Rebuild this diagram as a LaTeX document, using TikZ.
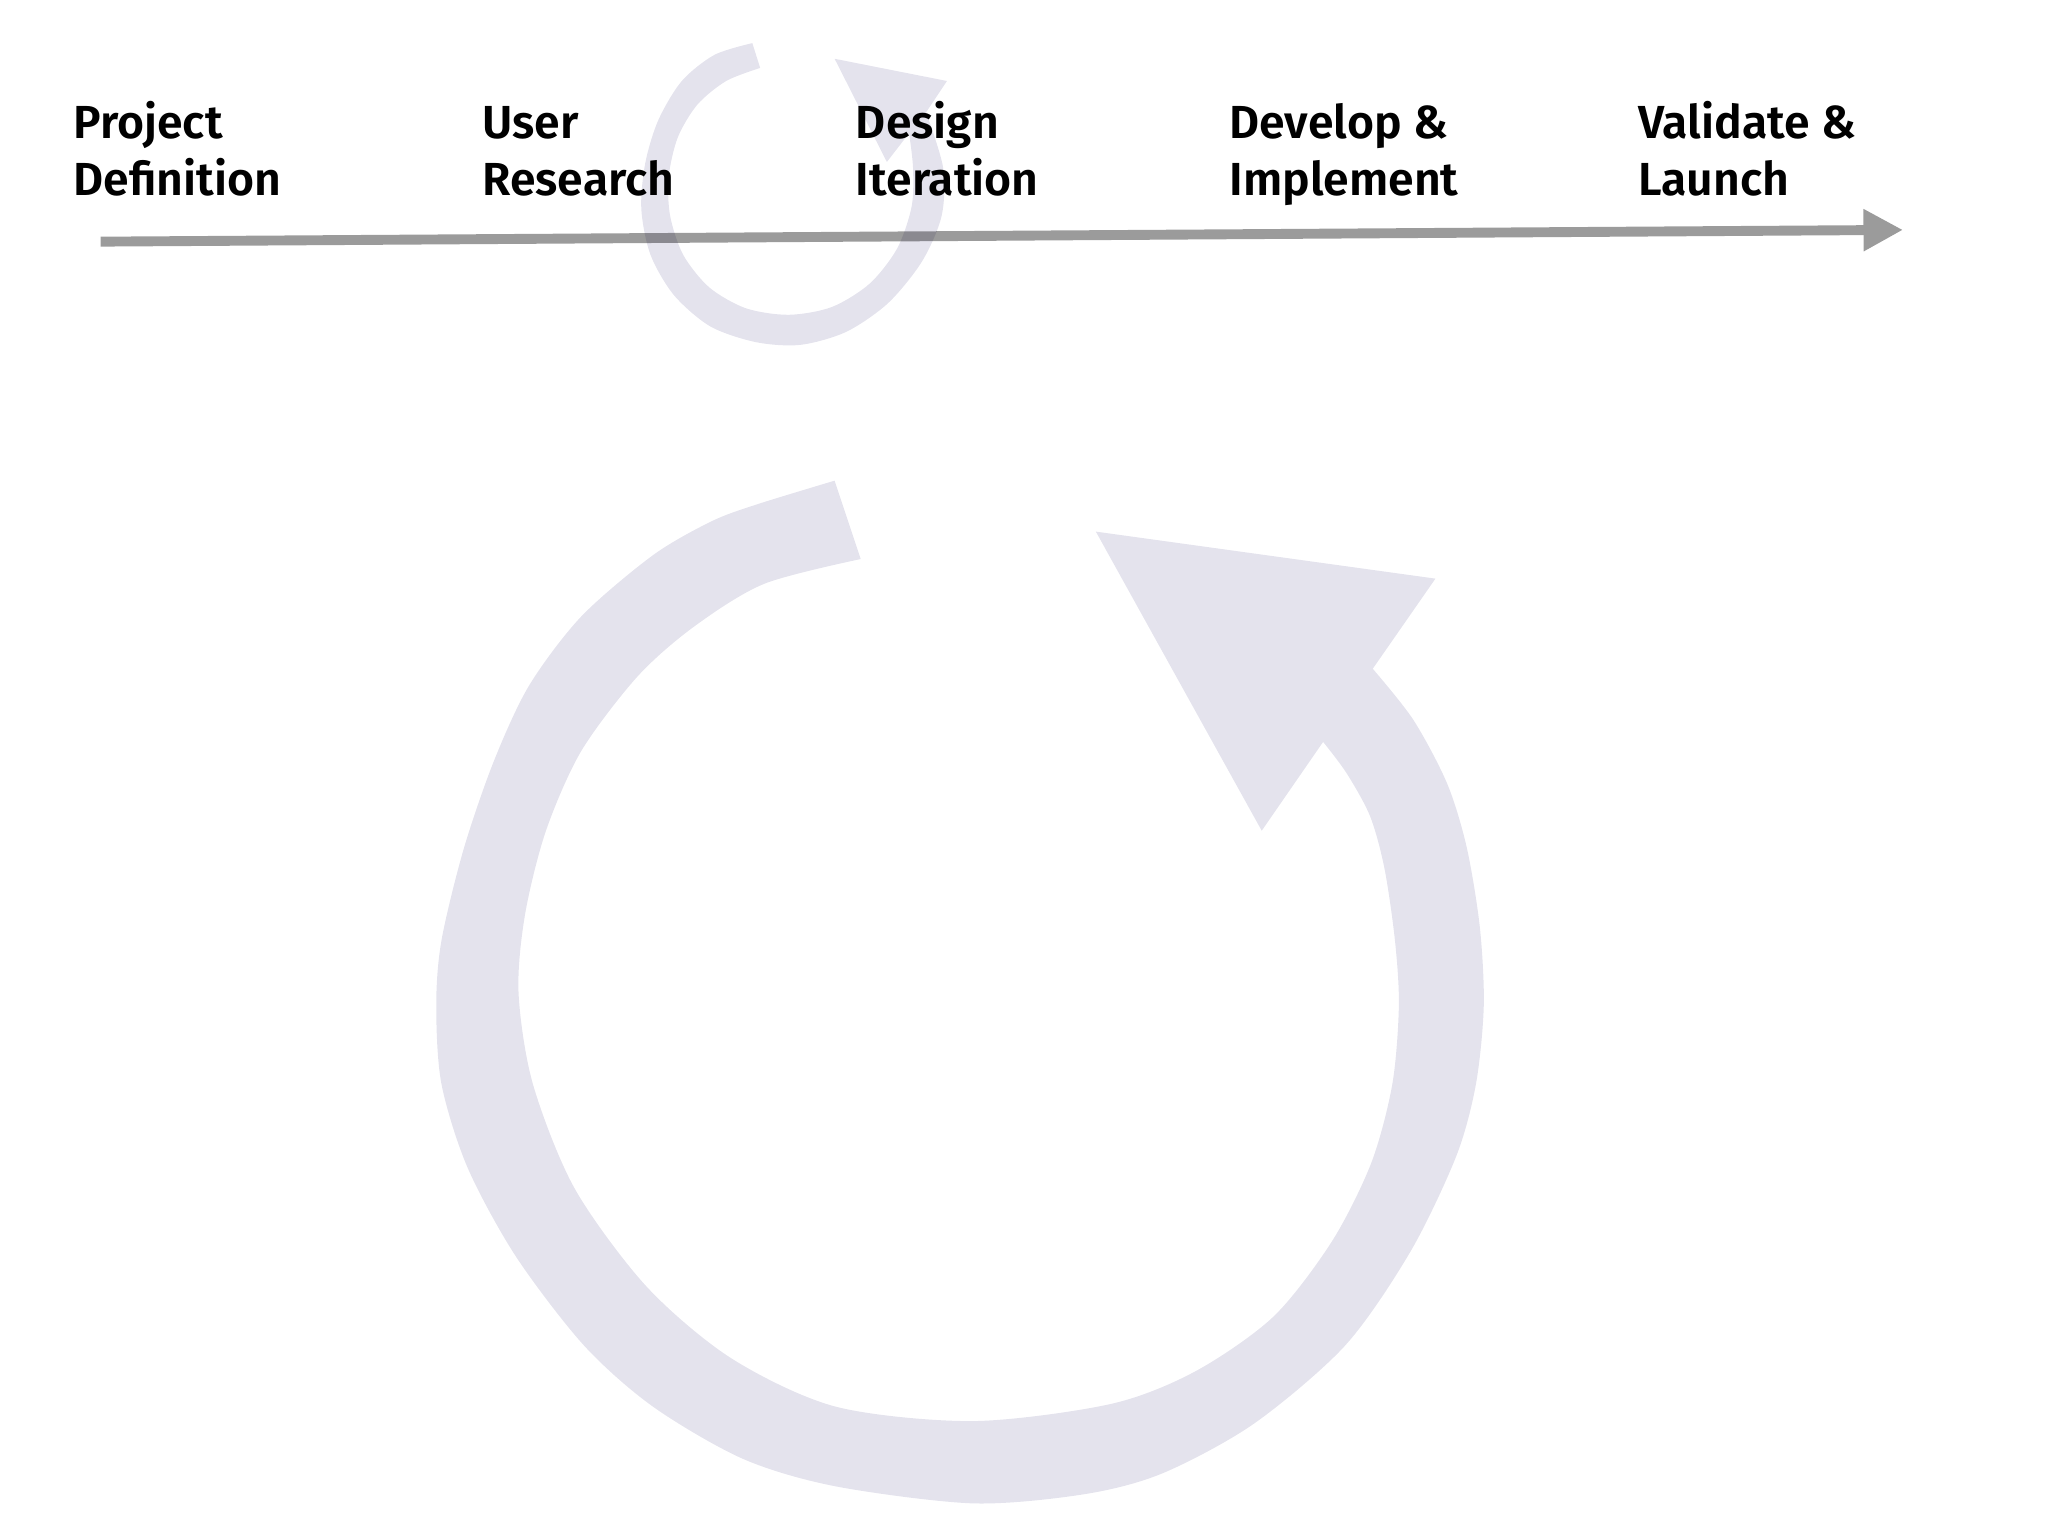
\documentclass[tikz,border=0pt]{standalone}
\usepackage{fontspec}
\setmainfont{Fira Sans}[BoldFont={Fira Sans SemiBold}]
\usepackage{tikz}
\usetikzlibrary{arrows.meta}
\definecolor{linegray}{RGB}{155,155,155}
\definecolor{spinfill}{RGB}{228,227,237}
\tikzset{phase/.style={anchor=base west,align=left,inner sep=0pt,font=\fontsize{20}{24.8}\selectfont\bfseries}}
\tikzset{timeline/.style={draw=linegray,line width=.15cm,-{Triangle[length=.6cm,width=.6cm]}}}
\tikzset{spin/.style={fill=spinfill,blend mode=multiply}}

\begin{document}
\begin{tikzpicture}[x=0.0198cm,y=-0.0198cm]
\useasboundingbox (0,0) rectangle (1568,1176);
\coordinate (t0) at (77,185);
\coordinate (t1) at (1457,176);
\draw[timeline] (t0) -- (t1);
\node[phase] (ph1) at (56,150) {Project\\Definition};
\node[phase] (ph2) at (369,150) {User\\Research};
\node[phase] (ph3) at (655,150) {Design\\Iteration};
\node[phase] (ph4) at (941,150) {Develop \&\\Implement};
\node[phase] (ph5) at (1254,150) {Validate \&\\Launch};
% small loop
\fill[spin] plot[smooth] coordinates {(576,33) (547,42) (522,62) (504,92) (494,125) (491,160) (498,195) (516,226) (544,250) (579,262) (613,264) (648,254) (680,232) (706,200) (721,165) (722,128) (709,86)}
 -- (725,62) -- (639,45) -- (679,124) -- (696,102)
 -- plot[smooth] coordinates {(696,102) (699,128) (698,158) (687,190) (666,217) (637,235) (604,241) (571,236) (543,220) (523,195) (513,165) (512,135) (519,105) (534,80) (556,62) (582,52)} -- cycle;
% big loop
\fill[spin] plot[smooth] coordinates {(639,368) (580,386) (545,399) (500,425) (445,472) (405,525) (378,583) (355,650) (338,720) (334,770) (338,830) (358,894) (395,962) (447,1030) (500,1077) (569,1117) (640,1138) (745,1151) (830,1144) (890,1128) (960,1090) (1030,1030) (1080,958) (1115,885) (1130,830) (1136,770) (1133,710) (1123,649) (1108,600) (1082,551) (1051,512)}
 -- (1099,443) -- (839,407) -- (966,636) -- (1013,568)
 -- plot[smooth] coordinates {(1013,568) (1031,592) (1049,625) (1060,665) (1068,720) (1071,770) (1066,830) (1050,890) (1020,950) (975,1008) (915,1050) (850,1075) (745,1088) (640,1077) (560,1040) (495,985) (440,910) (408,830) (397,760) (402,700) (418,636) (445,575) (488,518) (531,480) (585,447) (659,428)} -- cycle;
\end{tikzpicture}
\end{document}
